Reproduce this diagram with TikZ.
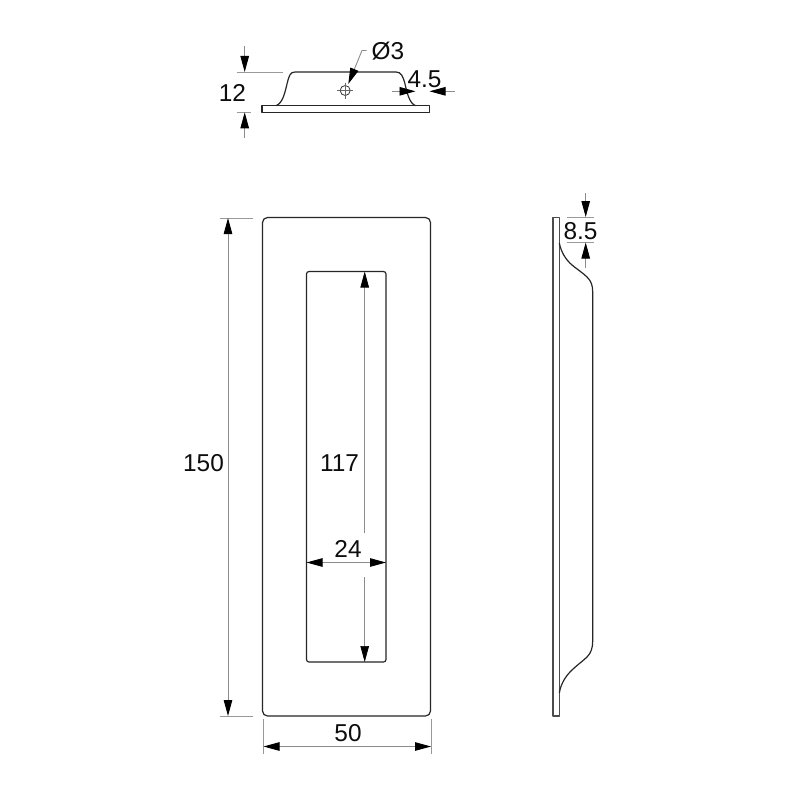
\documentclass[tikz,border=0pt]{standalone}
\usepackage{fontspec}
\setmainfont{Liberation Sans}
\usetikzlibrary{arrows.meta}
\tikzset{
  part/.style={draw=black!85,line width=1.2pt,line join=round},
  thin part/.style={draw=black!60,line width=.6pt},
  extline/.style={draw=black!40,line width=.9pt},
  dimline/.style={draw=black!45,line width=.9pt},
  tip/.style={-{Triangle[length=16pt,width=8.5pt,fill=black,color=black]}},
  tips/.style={{Triangle[length=16pt,width=8.5pt,fill=black,color=black]}-{Triangle[length=16pt,width=8.5pt,fill=black,color=black]}},
  dimtext/.style={inner sep=0pt,font=\fontsize{24.4}{24}\selectfont,text=black!95,anchor=center}
}
\begin{document}
\begin{tikzpicture}[x=1pt,y=-1pt]
\useasboundingbox (0,0) rectangle (800,800);
\fill[white] (0,0) rectangle (800,800);

% --- top view
\draw[part] (262,105.7) rectangle (429.8,112.3);
\draw[part] (276,105.7) .. controls (283,103) and (285,92) .. (287,84) .. controls (289,76) and (290,72) .. (295,72) -- (396,72) .. controls (401,72) and (403,76) .. (405,84) .. controls (407,92) and (409,103) .. (415.5,105.7);
\node[draw=black!80,line width=.8pt,circle,minimum size=10pt,inner sep=0pt] (hole) at (345.2,90.5) {};
\coordinate (hl) at (337.2,90.5); \coordinate (hr) at (353.2,90.5);
\coordinate (ht) at (345.2,82.5); \coordinate (hb) at (345.2,98.5);
\draw[thin part] (hl)--(hr) (ht)--(hb);

% 12
\coordinate (t12a) at (236.7,72); \coordinate (t12b) at (283,72);
\coordinate (b12a) at (236.7,112.3); \coordinate (b12b) at (251,112.3);
\draw[extline] (t12a)--(t12b) (b12a)--(b12b);
\coordinate (t12s) at (244.7,46.5); \coordinate (t12e) at (244.7,72);
\coordinate (b12s) at (244.7,137.5); \coordinate (b12e) at (244.7,112.3);
\draw[dimline,tip] (t12s)--(t12e);
\draw[dimline,tip] (b12s)--(b12e);
\node[dimtext] (l12) at (232.5,93) {12};

% dia 3
\coordinate (d0) at (366.5,50.5); \coordinate (d1) at (362,50.5); \coordinate (d2) at (348.3,84);
\draw[dimline,tip] (d0)--(d1)--(d2);
\node[dimtext] (ld) at (388,51) {Ø3};

% 4.5
\coordinate (f0) at (391.5,91.3); \coordinate (f1) at (415.5,91.3);
\coordinate (f2) at (454.5,91.3); \coordinate (f3) at (429.5,91.3);
\draw[dimline,tip] (f0)--(f1);
\draw[dimline,tip] (f2)--(f3);
\node[dimtext] (l45) at (424.5,79.5) {4.5};

% --- front view
\draw[part,rounded corners=5pt] (262.5,217.5) rectangle (430.5,716);
\draw[part,rounded corners=2.5pt] (306.5,271.5) rectangle (386,662);

% 150
\coordinate (e1a) at (219.5,218); \coordinate (e1b) at (253,218);
\coordinate (e2a) at (219.5,716); \coordinate (e2b) at (253,716);
\draw[extline] (e1a)--(e1b) (e2a)--(e2b);
\coordinate (d150a) at (228,218); \coordinate (d150b) at (228,716);
\draw[dimline,tips] (d150a)--(d150b);
\node[dimtext] (l150) at (203.5,463.5) {150};

% 117
\coordinate (u1) at (364.7,533); \coordinate (u2) at (364.7,271.5);
\coordinate (v1) at (364.7,577); \coordinate (v2) at (364.7,662);
\draw[dimline,line width=.7pt,tip] (u1)--(u2);
\draw[dimline,line width=.7pt,tip] (v1)--(v2);
\node[dimtext] (l117) at (339.5,463.5) {117};

% 24
\coordinate (w1) at (306.5,562.5); \coordinate (w2) at (386,562.5);
\draw[dimline,tips] (w1)--(w2);
\node[dimtext] (l24) at (348,549) {24};

% 50
\coordinate (x1) at (263.5,718.5); \coordinate (x1b) at (263.5,754);
\coordinate (x2) at (431,718.5); \coordinate (x2b) at (431,754);
\draw[extline] (x1)--(x1b) (x2)--(x2b);
\coordinate (y1) at (263.5,746.5); \coordinate (y2) at (431,746.5);
\draw[dimline,tips] (y1)--(y2);
\node[dimtext] (l50) at (348,733.5) {50};

% --- side view
\draw[part,draw=black!70] (553,217.5) rectangle (559.3,716);
\draw[part] (559.3,243) .. controls (561,252) and (566,260) .. (572,265) .. controls (578,270) and (583,273) .. (587,277) .. controls (591,281) and (592.7,285) .. (592.7,292) -- (592.7,641) .. controls (592.7,648) and (591,653) .. (587,657) .. controls (583,661) and (577,665) .. (571,671) .. controls (566,676) and (561,683) .. (559.3,693);

% 8.5
\coordinate (g1) at (566.5,217); \coordinate (g2) at (594,217);
\coordinate (g3) at (566.5,242.5); \coordinate (g4) at (594,242.5);
\draw[extline] (g1)--(g2) (g3)--(g4);
\coordinate (h1) at (585.7,193); \coordinate (h2) at (585.7,217);
\coordinate (h3) at (585.7,267.5); \coordinate (h4) at (585.7,242.5);
\draw[dimline,tip] (h1)--(h2);
\draw[dimline,tip] (h3)--(h4);
\node[dimtext] (l85) at (580.5,231.5) {8.5};
\end{tikzpicture}
\end{document}
